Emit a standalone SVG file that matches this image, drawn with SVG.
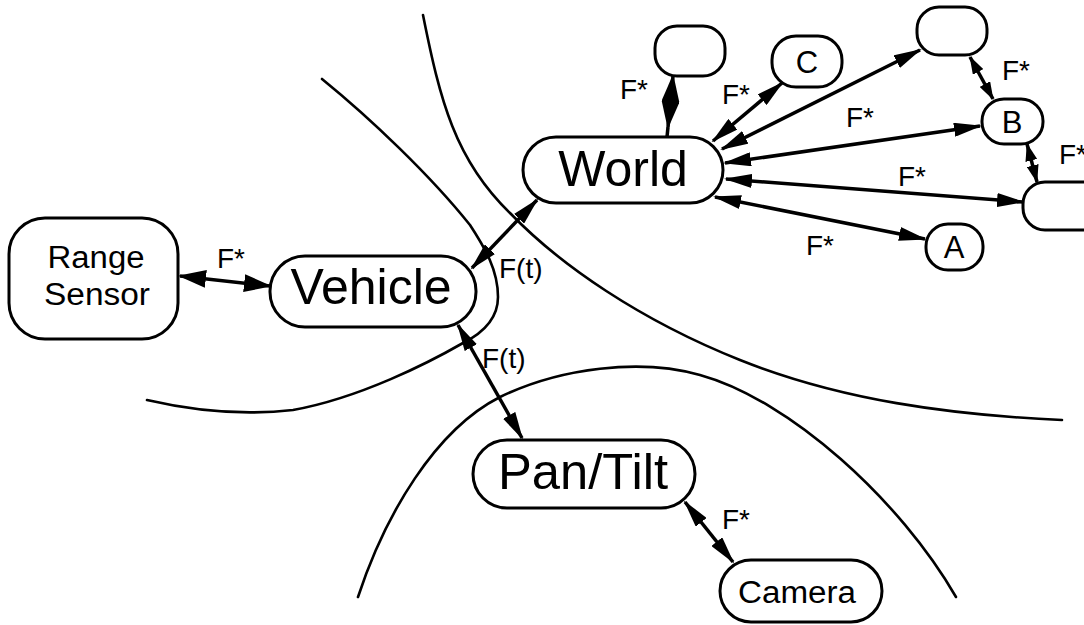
<svg xmlns="http://www.w3.org/2000/svg" width="1084" height="625" viewBox="0 0 1084 625">
<defs>
<style>
.bg{fill:#fff}
.curve{fill:none;stroke:#000;stroke-width:2.6;stroke-linecap:round}
.conn path{fill:none;stroke:#000;stroke-width:3.5}
.box{fill:#fff;stroke:#000;stroke-width:3}
text{font-family:"Liberation Sans",Arial,sans-serif;fill:#000}
.big{font-size:50px}
.mid{font-size:31px}
.lab{font-size:28px}
</style>
<marker id="ah" viewBox="0 0 28 14" refX="26" refY="7" markerWidth="28" markerHeight="14" markerUnits="userSpaceOnUse" orient="auto-start-reverse">
<path d="M0,0 L28,7 L0,14 z" fill="#000"/>
</marker>
<marker id="ahw" viewBox="0 0 28 18" refX="26" refY="9" markerWidth="28" markerHeight="18" markerUnits="userSpaceOnUse" orient="auto-start-reverse">
<path d="M0,0 L28,9 L0,18 z" fill="#000"/>
</marker>
<marker id="ahs" viewBox="0 0 18 12" refX="17" refY="6" markerWidth="18" markerHeight="12" markerUnits="userSpaceOnUse" orient="auto-start-reverse">
<path d="M0,0 L18,6 L0,12 z" fill="#000"/>
</marker>
</defs>
<rect class="bg" x="0" y="0" width="1084" height="625"/>
<g id="boundaries">
<path class="curve" d="M322,79 C370,118 430,175 470,225 C485,248 498,270 498,297 C498,318 485,332 463,343 C430,362 360,398 293,410 C240,416 190,410 147,400"/>
<path class="curve" d="M423,15 C440,100 455,160 510,213 C560,265 640,320 740,360 C840,400 950,415 1062,420"/>
<path class="curve" d="M358,597 C385,515 435,430 500,397 C560,368 640,358 700,375 C790,400 900,500 956,597"/>
</g>
<g id="connectors" class="conn">
<path d="M180,276 L270,286" marker-start="url(#ahw)" marker-end="url(#ahw)"/>
<path d="M472,268 L537,200" marker-start="url(#ah)" marker-end="url(#ah)"/>
<path d="M458,325 L522,438" marker-start="url(#ah)" marker-end="url(#ah)"/>
<path d="M685,502 L733,562" marker-start="url(#ah)" marker-end="url(#ah)"/>
<path d="M673,76 L668,127" marker-start="url(#ahw)" marker-end="url(#ahw)"/>
<path d="M668,127 L667,137"/>
<path d="M713,141 L782,83" marker-start="url(#ah)" marker-end="url(#ah)"/>
<path d="M722,149 L920,50" marker-start="url(#ah)" marker-end="url(#ah)"/>
<path d="M725,163 L980,126" marker-start="url(#ah)" marker-end="url(#ah)"/>
<path d="M726,179 L1023,202" marker-start="url(#ah)" marker-end="url(#ah)"/>
<path d="M715,197 L925,239" marker-start="url(#ah)" marker-end="url(#ah)"/>
<path d="M970,57 L993,99" marker-start="url(#ahs)" marker-end="url(#ahs)"/>
<path d="M1027,144 L1037,182" marker-start="url(#ahs)" marker-end="url(#ahs)"/>
</g>
<g id="labels">
<text class="lab" x="217" y="268">F*</text>
<text class="lab" x="499" y="278">F(t)</text>
<text class="lab" x="482" y="368">F(t)</text>
<text class="lab" x="722" y="529">F*</text>
<text class="lab" x="620" y="99">F*</text>
<text class="lab" x="722" y="104">F*</text>
<text class="lab" x="846" y="127">F*</text>
<text class="lab" x="1002" y="80">F*</text>
<text class="lab" x="1059" y="164">F*</text>
<text class="lab" x="898" y="186">F*</text>
<text class="lab" x="806" y="255">F*</text>
</g>
<g id="range-sensor">
<rect class="box" x="9" y="218" width="169" height="121" rx="36"/>
<text class="mid" x="96" y="268" text-anchor="middle" textLength="97" lengthAdjust="spacingAndGlyphs">Range</text>
<text class="mid" x="97" y="305" text-anchor="middle" textLength="106" lengthAdjust="spacingAndGlyphs">Sensor</text>
</g>
<g id="vehicle">
<rect class="box" x="270" y="256" width="206" height="71" rx="35"/>
<text class="big" x="371" y="304" text-anchor="middle">Vehicle</text>
</g>
<g id="world">
<rect class="box" x="523" y="137" width="200" height="66" rx="33"/>
<text class="big" x="623" y="186" text-anchor="middle">World</text>
</g>
<g id="pan-tilt">
<rect class="box" x="473" y="440" width="222" height="68" rx="34"/>
<text class="big" x="583" y="489" text-anchor="middle" font-size="44" textLength="170" lengthAdjust="spacingAndGlyphs">Pan/Tilt</text>
</g>
<g id="camera">
<rect class="box" x="720" y="560" width="162" height="62" rx="31"/>
<text class="mid" x="797" y="603" text-anchor="middle" textLength="118" lengthAdjust="spacingAndGlyphs">Camera</text>
</g>
<g id="node-top">
<rect class="box" x="655" y="26" width="70" height="50" rx="22"/>
</g>
<g id="node-c">
<rect class="box" x="772" y="36" width="70" height="51" rx="24"/>
<text class="mid" x="807" y="73" text-anchor="middle">C</text>
</g>
<g id="node-top-right">
<rect class="box" x="917" y="7" width="70" height="48" rx="22"/>
</g>
<g id="node-b">
<rect class="box" x="982" y="99" width="61" height="45" rx="22"/>
<text class="mid" x="1012" y="133" text-anchor="middle">B</text>
</g>
<g id="node-right">
<rect class="box" x="1023" y="182" width="90" height="48" rx="22"/>
</g>
<g id="node-a">
<rect class="box" x="926" y="224" width="57" height="46" rx="22"/>
<text class="mid" x="954" y="258" text-anchor="middle">A</text>
</g>
</svg>
